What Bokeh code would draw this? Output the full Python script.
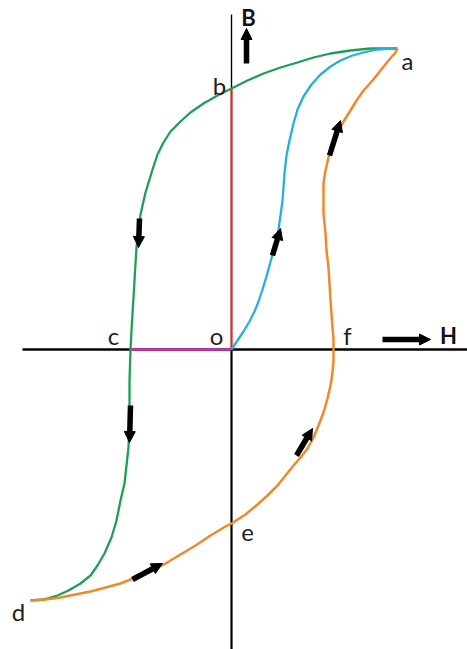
from bokeh.plotting import figure
from bokeh.models import Range1d, Arrow, NormalHead, ColumnDataSource
from bokeh.core.properties import value
from bokeh.embed import file_html
from bokeh.resources import INLINE

# Chart coordinates: H horizontal (origin o), B vertical
# Green: a -> b -> c -> d (decreasing H)
green_h = [166, 139, 119, 99, 82, 66, 49, 32, 16, 0, -14, -28, -41, -51, -61, -68, -74, -78,
           -82, -86, -91, -93, -95, -96, -97, -98, -99, -100, -101, -102, -102, -103, -105,
           -107, -111, -115, -120, -127, -134, -141, -151, -163, -174, -188, -201]
green_b = [301, 301, 299, 296, 292, 287, 282, 276, 269, 261, 254, 246, 237, 228, 218, 207, 195,
           183, 170, 157, 135, 119, 102, 86, 69, 52, 36, 19, 0, -31, -64, -98, -116, -134,
           -151, -171, -188, -204, -216, -226, -234, -241, -246, -250, -251]
# Blue: o -> a (initial magnetisation)
blue_h = [0, 6, 12, 18, 23, 27, 31, 35, 38, 41, 44, 47, 49, 51, 52, 53, 55, 58, 62, 66, 72,
          80, 89, 99, 109, 121, 132, 146, 159, 166]
blue_b = [0, 9, 18, 28, 38, 48, 60, 73, 84, 95, 107, 120, 134, 149, 162, 176, 194, 209, 226,
          240, 253, 265, 275, 283, 289, 294, 297, 300, 301, 301]
# Orange: d -> e -> f -> a
orange_h = [-201, -186, -171, -156, -141, -126, -111, -96, -81, -66, -51, -36, -21, -6, 0, 14,
            26, 36, 46, 54, 62, 69, 76, 82, 87, 92, 96, 99, 101, 102, 102, 102, 101, 100, 99,
            98, 97, 95, 94, 92, 92, 92, 94, 97, 101, 106, 112, 119, 125, 132, 141, 149, 157,
            164, 166]
orange_b = [-251, -250, -248, -245, -242, -238, -234, -228, -222, -214, -205, -196, -186, -177,
            -174, -165, -155, -146, -136, -126, -116, -108, -99, -88, -76, -63, -49, -36, -23,
            -11, 0, 11, 22, 36, 49, 66, 82, 99, 116, 136, 149, 166, 179, 192, 204, 216, 228,
            239, 249, 259, 269, 279, 289, 297, 301]
# Remanence (o-b) and coercivity (c-o) segments
red_h = [0, 0]
red_b = [0, 261]
magenta_h = [-101, 0]
magenta_b = [0, 0]

# Axes extents
vaxis_top = 335
vaxis_bottom = -310
haxis_h = [-209, 240]

# Point labels
labels = ["B", "a", "b", "c", "o", "f", "H", "e", "d"]
label_h = [17, 176, -12, -118, -15, 116, 217, 16, -213]
label_b = [332, 289, 264, 14, 14, 14, 14, -183, -262]
label_bold = [True, False, False, False, False, False, True, False, False]

# Direction arrows (start H, start B, end H, end B)
arr_x0 = [15, 151, -92, 41, 98, -101, 65, -99]
arr_y0 = [286, 10, 131, 94, 194, -56, -106, -230]
arr_x1 = [15, 199, -93, 49, 109, -102, 81, -69]
arr_y1 = [321, 10, 102, 121, 229, -93, -79, -214]

p = figure(width=467, height=649, output_backend="svg", toolbar_location=None,
           x_range=Range1d(-231, 236), y_range=Range1d(-300, 349),
           min_border=0, border_fill_color="white", background_fill_color="white")
p.axis.visible = False
p.grid.visible = False
p.outline_line_color = None

# axes
p.line([0, 0], [vaxis_top, 0], line_color="black", line_width=1.4)
p.line([0, 0], [0, vaxis_bottom], line_color="black", line_width=2.2)
p.line(haxis_h, [0, 0], line_color="black", line_width=2.5)

p.line(red_h, red_b, line_color="#e8262e", line_width=2)
p.line(magenta_h, magenta_b, line_color="#cc2fb4", line_width=2.5)
p.line(green_h, green_b, line_color="#1f9e55", line_width=2.3, line_join="round")
p.line(blue_h, blue_b, line_color="#27aee0", line_width=2.3, line_join="round")
p.line(orange_h, orange_b, line_color="#f0892a", line_width=2.5, line_join="round")

for i in range(len(arr_x0)):
    p.add_layout(Arrow(end=NormalHead(size=11, fill_color="black", line_color="black", line_width=1),
                       x_start=arr_x0[i], y_start=arr_y0[i], x_end=arr_x1[i], y_end=arr_y1[i],
                       line_width=5.5, line_color="black"))

src_n = ColumnDataSource(dict(x=[h for h, bo in zip(label_h, label_bold) if not bo],
                              y=[b for b, bo in zip(label_b, label_bold) if not bo],
                              t=[t for t, bo in zip(labels, label_bold) if not bo]))
src_b = ColumnDataSource(dict(x=[h for h, bo in zip(label_h, label_bold) if bo],
                              y=[b for b, bo in zip(label_b, label_bold) if bo],
                              t=[t for t, bo in zip(labels, label_bold) if bo]))
p.text(x="x", y="y", text="t", source=src_n, text_font=value("Lato"), text_font_size="24px",
       text_align="center", text_baseline="alphabetic", text_color="#222222")
p.text(x="x", y="y", text="t", source=src_b, text_font=value("Lato"), text_font_size="22px",
       text_font_style="bold", text_align="center", text_baseline="alphabetic", text_color="#111111")

open("out.html", "w").write(file_html(p, INLINE))
